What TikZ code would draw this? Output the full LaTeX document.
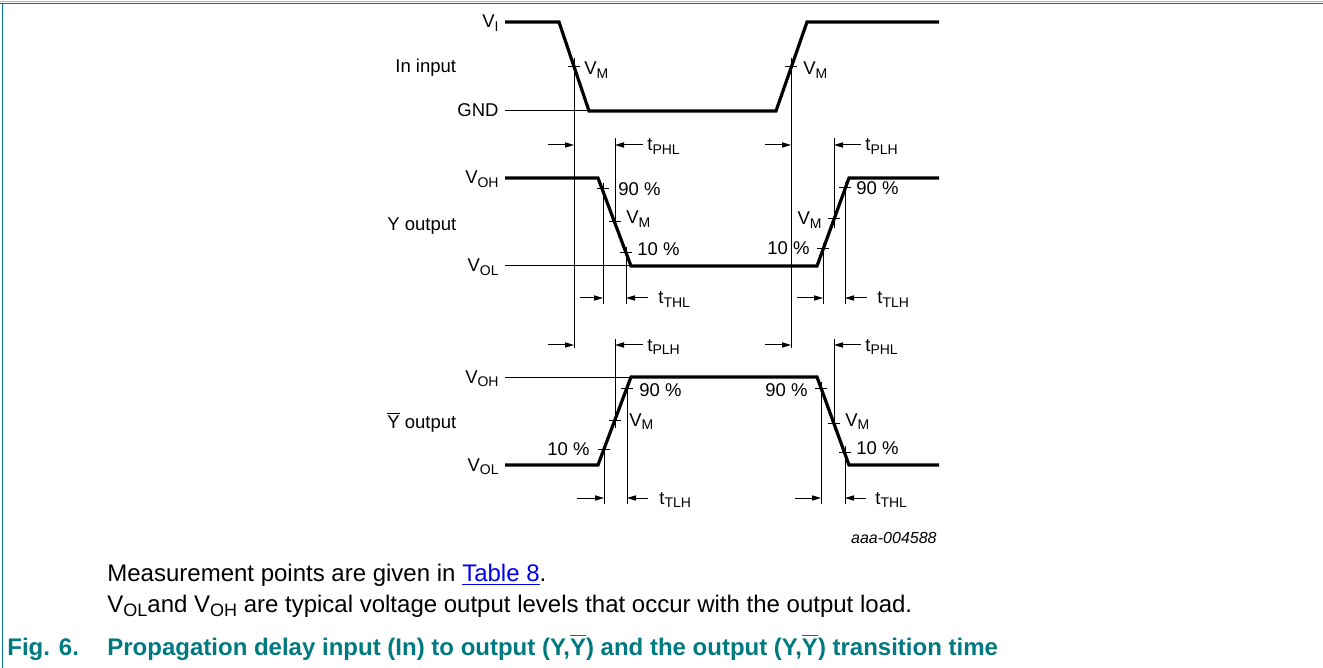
\documentclass[tikz,border=0pt]{standalone}
\usepackage{fontspec}
\setmainfont{Liberation Sans}
\usetikzlibrary{arrows.meta}
\definecolor{nxpteal}{RGB}{0,122,128}
\definecolor{linkblue}{RGB}{0,0,238}
\newcommand{\lo}[1]{\raisebox{-1.7pt}{\fontsize{7}{8}\selectfont #1}}
\newcommand{\lob}[1]{\raisebox{-2.1pt}{\fontsize{9}{10}\selectfont #1}}
\newcommand{\ybar}{\ensuremath{\overline{\mbox{Y}}}}
\newcommand{\mtick}[1]{\draw[guide] (#1) ++(-6,0) -- ++(12,0);}
\tikzset{
  wave/.style={line width=1.6pt, line join=miter},
  guide/.style={line width=0.5pt},
  dimarrow/.style={-{Triangle[length=4.5pt,width=2.6pt]}, line width=0.5pt},
  lbl/.style={inner sep=0pt, font=\fontsize{9.25}{11}\selectfont},
  txt/.style={inner sep=0pt, anchor=base west, font=\fontsize{12}{14}\selectfont},
  figcap/.style={txt, font=\bfseries\fontsize{12}{14}\selectfont, text=nxpteal}
}
\begin{document}
\begin{tikzpicture}[x=0.5pt,y=-0.5pt]
    \useasboundingbox (0,0) rectangle (1323,668);
    % frame
    \draw [nxpteal!45, line width=0.5pt] (0,2) -- (1323,2);
    \draw [nxpteal, line width=0.8pt] (0,3.5) -- (1323,3.5);
    \draw [nxpteal, line width=0.6pt] (2.5,3) -- (2.5,668);
    % levels
    \node [lbl, anchor=base east] (vi) at (499,28) {V\lo{I}};
    \node [lbl, anchor=base west] (inlab) at (395,73) {In input};
    \node [lbl, anchor=base east] (gnd) at (499,117) {GND};
    \node [lbl, anchor=base east] (yoh) at (499,184) {V\lo{OH}};
    \node [lbl, anchor=base west] (ylab) at (387,231) {Y output};
    \node [lbl, anchor=base east] (yol) at (499,272) {V\lo{OL}};
    \node [lbl, anchor=base east] (boh) at (499,383) {V\lo{OH}};
    \node [lbl, anchor=base west] (blab) at (387,429) {\ybar{} output};
    \node [lbl, anchor=base east] (bol) at (499,471) {V\lo{OL}};
    % waveforms
    \draw [wave] (505,22) -- (559,22) -- (589,111) -- (776,111) -- (807,22) -- (939,22);
    \draw [guide] (505,111) -- (589,111);
    \draw [wave] (505,178) -- (598,178) -- (631,266) -- (817,266) -- (849,178) -- (939,178);
    \draw [guide] (505,266) -- (631,266);
    \draw [guide] (505,377) -- (631,377);
    \draw [wave] (505,465) -- (598,465) -- (631,377) -- (817,377) -- (849,465) -- (939,465);
    % input
    \coordinate (inf) at (574,67);
    \coordinate (inr) at (791,67);
    \mtick{inf} \mtick{inr}
    \draw [guide] (574,58) -- (574,348);
    \draw [guide] (791,58) -- (791,348);
    \node [lbl, anchor=base west] (vmi1) at (584,75) {V\lo{M}};
    \node [lbl, anchor=base west] (vmi2) at (803,75) {V\lo{M}};
    % Y output
    \coordinate (yf9) at (602.5,189);
    \coordinate (yfm) at (614.5,222);
    \coordinate (yf1) at (626,253);
    \coordinate (yr1) at (823,249);
    \coordinate (yrm) at (834,219);
    \coordinate (yr9) at (845,188);
    \mtick{yf9} \mtick{yfm} \mtick{yf1}
    \mtick{yr1} \mtick{yrm} \mtick{yr9}
    \node [lbl, anchor=base west] (y90a) at (618,196) {90 \%};
    \node [lbl, anchor=base west] (yvma) at (626,224) {V\lo{M}};
    \node [lbl, anchor=base west] (y10a) at (637,256) {10 \%};
    \node [lbl, anchor=base east] (y10b) at (810,255) {10 \%};
    \node [lbl, anchor=base east] (yvmb) at (822,225) {V\lo{M}};
    \node [lbl, anchor=base west] (y90b) at (856,195) {90 \%};
    \draw [dimarrow] (548,145) -- (574,145);
    \draw [dimarrow] (765,145) -- (791,145);
    \draw [guide] (615,138) -- (615,228);
    \draw [dimarrow] (643,145) -- (615,145);
    \node [lbl, anchor=base west] (tphla) at (647,151) {t\lo{PHL}};
    \draw [guide] (834,138) -- (834,228);
    \draw [dimarrow] (861,145) -- (834,145);
    \node [lbl, anchor=base west] (tplha) at (865,151) {t\lo{PLH}};
    \draw [guide] (603,183) -- (603,304);
    \draw [guide] (626,247) -- (626,304);
    \draw [dimarrow] (580,298) -- (603,298);
    \draw [dimarrow] (648,298) -- (626,298);
    \node [lbl, anchor=base west] (tthla) at (658,304) {t\lo{THL}};
    \draw [guide] (823,243) -- (823,304);
    \draw [guide] (845,182) -- (845,304);
    \draw [dimarrow] (797,298) -- (823,298);
    \draw [dimarrow] (867,298) -- (845,298);
    \node [lbl, anchor=base west] (ttlha) at (877,304) {t\lo{TLH}};
    % Y-bar output
    \coordinate (br1) at (604,449);
    \coordinate (brm) at (615,420);
    \coordinate (br9) at (627,388);
    \coordinate (bf9) at (821,388);
    \coordinate (bfm) at (834,423);
    \coordinate (bf1) at (845,452);
    \mtick{br1} \mtick{brm} \mtick{br9}
    \mtick{bf9} \mtick{bfm} \mtick{bf1}
    \node [lbl, anchor=base west] (b90a) at (639,396) {90 \%};
    \node [lbl, anchor=base west] (bvma) at (629,426) {V\lo{M}};
    \node [lbl, anchor=base east] (b10a) at (590,455) {10 \%};
    \node [lbl, anchor=base east] (b90b) at (808,396) {90 \%};
    \node [lbl, anchor=base west] (bvmb) at (845,426) {V\lo{M}};
    \node [lbl, anchor=base west] (b10b) at (856,454) {10 \%};
    \draw [dimarrow] (548,345) -- (574,345);
    \draw [dimarrow] (765,345) -- (791,345);
    \draw [guide] (615,339) -- (615,428);
    \draw [dimarrow] (643,345) -- (615,345);
    \node [lbl, anchor=base west] (tplhb) at (647,351) {t\lo{PLH}};
    \draw [guide] (834,339) -- (834,430);
    \draw [dimarrow] (861,345) -- (834,345);
    \node [lbl, anchor=base west] (tphlb) at (865,351) {t\lo{PHL}};
    \draw [guide] (604,443) -- (604,504);
    \draw [guide] (627,382) -- (627,504);
    \draw [dimarrow] (577,498) -- (604,498);
    \draw [dimarrow] (648,498) -- (627,498);
    \node [lbl, anchor=base west] (ttlhb) at (659,504) {t\lo{TLH}};
    \draw [guide] (821,382) -- (821,504);
    \draw [guide] (845,446) -- (845,504);
    \draw [dimarrow] (795,498) -- (821,498);
    \draw [dimarrow] (866,498) -- (845,498);
    \node [lbl, anchor=base west] (tthlb) at (875,504) {t\lo{THL}};
    % notes and caption
    \node [lbl, anchor=base east, font=\itshape\fontsize{8}{10}\selectfont] (code) at (937,543) {aaa-004588};
    \node [txt] (note1) at (107,581) {Measurement points are given in \textcolor{linkblue}{\underline{Table 8}}.};
    \node [txt] (note2) at (107,612) {V\lob{OL}and V\lob{OH} are typical voltage output levels that occur with the output load.};
    \node [figcap] (fig) at (7,655) {Fig. 6.};
    \node [figcap] (title) at (107,655) {Propagation delay input (In) to output (Y,\ybar) and the output (Y,\ybar) transition time};
\end{tikzpicture}
\end{document}
